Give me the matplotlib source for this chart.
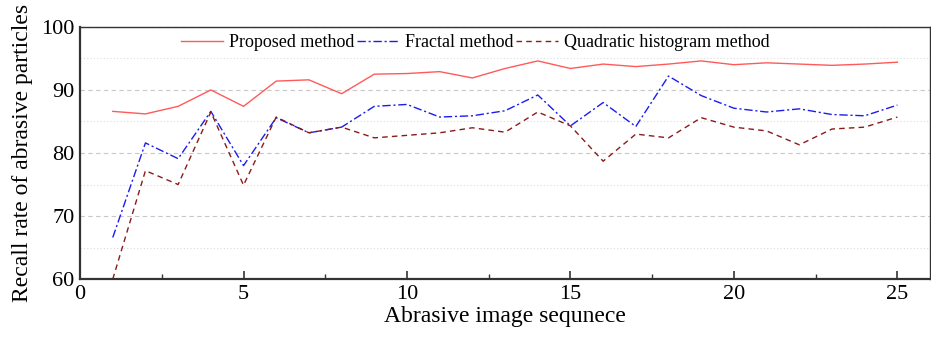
import numpy as np
import matplotlib.pyplot as plt
from matplotlib.ticker import MultipleLocator

plt.rcParams['font.family'] = ['Liberation Serif', 'DejaVu Serif']

# Data
seq = list(range(1, 26))
proposed = [86.6, 86.2, 87.4, 90.0, 87.4, 91.4, 91.6, 89.4, 92.5, 92.6,
            92.9, 91.9, 93.4, 94.6, 93.4, 94.1, 93.7, 94.1, 94.6, 94.0,
            94.3, 94.1, 93.9, 94.1, 94.4]
fractal = [66.6, 81.6, 79.1, 86.6, 78.0, 85.6, 83.2, 84.1, 87.4, 87.7,
           85.7, 85.9, 86.7, 89.2, 84.3, 88.0, 84.2, 92.2, 89.1, 87.1,
           86.5, 87.0, 86.1, 85.9, 87.6]
quadratic = [60.0, 77.2, 75.0, 86.5, 74.9, 85.7, 83.2, 84.1, 82.4, 82.8,
             83.2, 84.0, 83.3, 86.5, 84.3, 78.7, 83.0, 82.4, 85.6, 84.1,
             83.5, 81.3, 83.8, 84.1, 85.7]

fig = plt.figure(figsize=(9.31, 3.40), dpi=100)
ax = fig.add_axes([0.086, 0.179, 0.913, 0.742])

ax.plot(seq, proposed, color='#ff5a5a', lw=1.0, label='Proposed method')
ax.plot(seq, fractal, color='#1c1cf0', lw=1.0, linestyle=(0, (6, 2, 1.5, 2)),
        label='Fractal method')
ax.plot(seq, quadratic, color='#8b1a1a', lw=1.0, linestyle=(0, (4, 3)),
        label='Quadratic histogram method')

ax.set_xlim(0, 26)
ax.set_ylim(60, 100)
ax.xaxis.set_major_locator(MultipleLocator(5))
ax.xaxis.set_minor_locator(MultipleLocator(2.5))
ax.yaxis.set_major_locator(MultipleLocator(10))
ax.yaxis.set_minor_locator(MultipleLocator(5))

ax.grid(True, which='major', axis='y', linestyle=(0, (4, 3)), color='#c8c8c8', lw=0.8)
ax.grid(True, which='minor', axis='y', linestyle=(0, (1, 2)), color='#dcdcdc', lw=0.8)
ax.set_axisbelow(True)

ax.tick_params(axis='x', which='major', direction='in', length=6, width=1.2,
               color='#333333', labelsize=16, pad=4)
ax.tick_params(axis='x', which='minor', direction='in', length=3.5, width=1.0,
               color='#333333')
ax.tick_params(axis='y', which='both', length=0, labelsize=16, pad=4)

for side in ['left', 'bottom']:
    ax.spines[side].set_linewidth(1.6)
    ax.spines[side].set_color('#333333')
for side in ['top', 'right']:
    ax.spines[side].set_linewidth(1.0)
    ax.spines[side].set_color('#333333')

ax.set_xlabel('Abrasive image sequnece', fontsize=17, labelpad=2)
ax.set_ylabel('Recall rate of abrasive particles', fontsize=17, labelpad=6)

ax.legend(loc='upper left', bbox_to_anchor=(0.1, 1.035), ncol=3, frameon=False,
          fontsize=13, handlelength=2.3, handletextpad=0.35, columnspacing=0.15)

fig.savefig('out.png', dpi=100)
